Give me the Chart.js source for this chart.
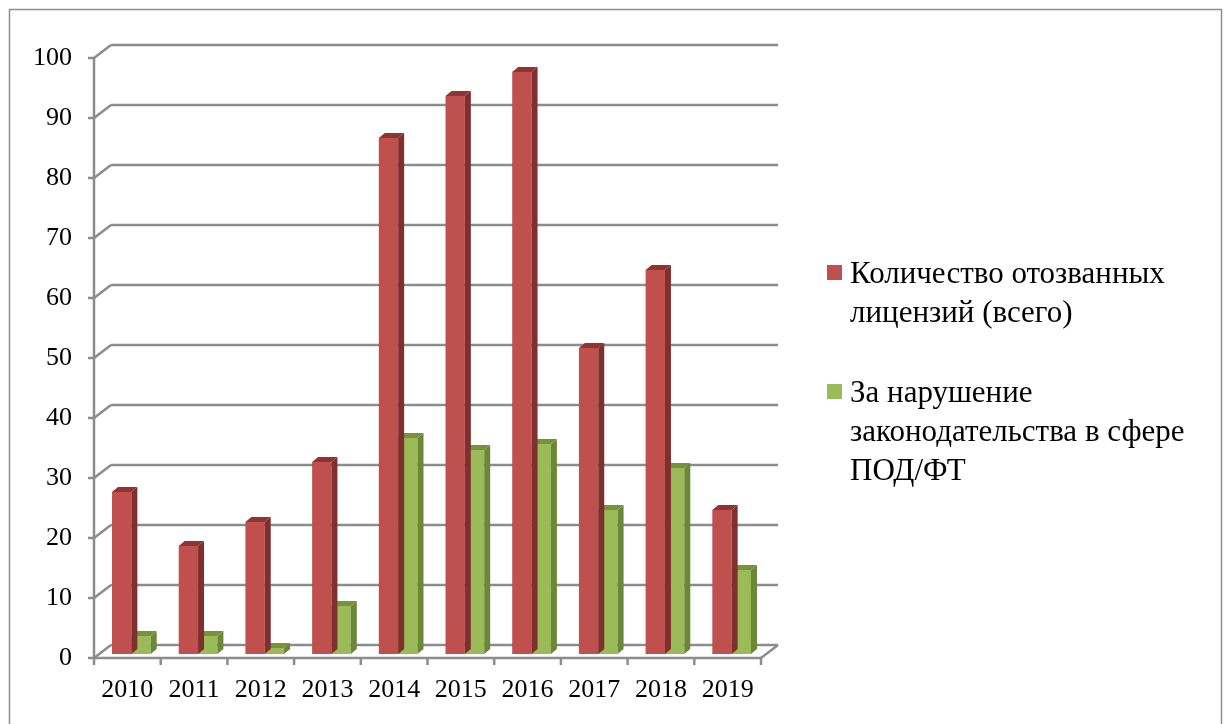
<!DOCTYPE html>
<html>
<head>
<meta charset="utf-8">
<script src="https://cdn.jsdelivr.net/npm/chart.js@4"></script>
<style>
    html, body { margin: 0; padding: 0; background: #fff; }
    canvas { display: block; }
</style>
</head>
<body>
<canvas id="myChart" width="1224" height="724"></canvas>
<script>
const years = ['2010', '2011', '2012', '2013', '2014', '2015', '2016', '2017', '2018', '2019'];
const revokedTotal = [27, 18, 22, 32, 86, 93, 97, 51, 64, 24];
const revokedAml = [3, 3, 1, 8, 36, 34, 35, 24, 31, 14];
const seriesNames = [
    'Количество отозванных лицензий (всего)',
    'За нарушение законодательства в сфере ПОД/ФТ'
];
const legendLines = [
    ['Количество отозванных', 'лицензий (всего)'],
    ['За нарушение', 'законодательства в сфере', 'ПОД/ФТ']
];

const FONT = '26px "Liberation Serif"';
const LEGEND_FONT = '31px "Liberation Serif"';
const GRID = '#8c8c8c';
// offsets of the front edge / back wall from the plane the bars stand in
const FRONT = { dx: -4, dy: 4 };
const BACK = { dx: 13, dy: -9 };
// depth of a single bar
const DEPTH = { dx: 6, dy: 5 };

function line(ctx, x1, y1, x2, y2) {
    ctx.beginPath();
    ctx.moveTo(x1, y1);
    ctx.lineTo(x2, y2);
    ctx.stroke();
}

// walls, axes, ticks and their labels
const walls = {
    id: 'walls',
    beforeDatasetsDraw(chart) {
        const { ctx, chartArea: a, scales: { x, y } } = chart;
        ctx.save();
        ctx.strokeStyle = GRID;
        ctx.lineWidth = 2.5;
        ctx.fillStyle = '#000';
        ctx.font = FONT;
        ctx.textAlign = 'right';
        ctx.textBaseline = 'middle';

        y.ticks.forEach(t => {
            const py = y.getPixelForValue(t.value);
            line(ctx, a.left + BACK.dx, py + BACK.dy, a.right + BACK.dx, py + BACK.dy);
            line(ctx, a.left + FRONT.dx, py + FRONT.dy, a.left + BACK.dx, py + BACK.dy);
            line(ctx, a.left + FRONT.dx - 6, py + FRONT.dy, a.left + FRONT.dx, py + FRONT.dy);
            ctx.fillText(String(t.value), a.left + FRONT.dx - 22, py + FRONT.dy);
        });

        const yTop = y.getPixelForValue(y.max) + FRONT.dy;
        const y0 = y.getPixelForValue(0) + FRONT.dy;
        line(ctx, a.left + FRONT.dx, yTop, a.left + FRONT.dx, y0);

        // floor edge
        line(ctx, a.left + FRONT.dx, y0, a.right + FRONT.dx, y0);
        line(ctx, a.right + FRONT.dx, y0, a.right + BACK.dx, y.getPixelForValue(0) + BACK.dy);

        const step = (a.right - a.left) / years.length;
        for (let i = 0; i <= years.length; i++) {
            const bx = a.left + FRONT.dx + i * step;
            line(ctx, bx, y0, bx, y0 + 7);
        }

        ctx.textAlign = 'center';
        years.forEach((yr, i) => {
            ctx.fillText(yr, x.getPixelForValue(i) + FRONT.dx, y0 + 32);
        });
        ctx.restore();
    },
    // side and top faces of every bar
    afterDatasetDraw(chart, args) {
        const { ctx } = chart;
        const ds = chart.data.datasets[args.index];
        ctx.save();
        args.meta.data.forEach(el => {
            const { x, y, base, width } = el.getProps(['x', 'y', 'base', 'width'], true);
            const l = x - width / 2, r = x + width / 2;
            ctx.fillStyle = ds.sideColor;
            ctx.beginPath();
            ctx.moveTo(r, y);
            ctx.lineTo(r + DEPTH.dx, y - DEPTH.dy);
            ctx.lineTo(r + DEPTH.dx, base - DEPTH.dy);
            ctx.lineTo(r, base);
            ctx.closePath();
            ctx.fill();
            ctx.fillStyle = ds.topColor;
            ctx.beginPath();
            ctx.moveTo(l, y);
            ctx.lineTo(l + DEPTH.dx, y - DEPTH.dy);
            ctx.lineTo(r + DEPTH.dx, y - DEPTH.dy);
            ctx.lineTo(r, y);
            ctx.closePath();
            ctx.fill();
        });
        ctx.restore();
    },
    afterDraw(chart) {
        const { ctx } = chart;
        ctx.save();
        // frame round the chart
        ctx.strokeStyle = '#8f8f8f';
        ctx.lineWidth = 1.5;
        ctx.strokeRect(9.5, 9.5, 1212, 730);

        ctx.font = LEGEND_FONT;
        ctx.textAlign = 'left';
        ctx.textBaseline = 'alphabetic';
        const baselines = [283, 402];
        legendLines.forEach((lines, i) => {
            ctx.fillStyle = chart.data.datasets[i].backgroundColor;
            ctx.fillRect(827, baselines[i] - 18, 15, 15);
            ctx.fillStyle = '#000';
            lines.forEach((txt, j) => ctx.fillText(txt, 850, baselines[i] + j * 39));
        });
        ctx.restore();
    }
};

const data = {
    labels: years,
    datasets: [
        {
            label: seriesNames[0],
            data: revokedTotal,
            backgroundColor: '#c0504d',
            sideColor: '#7f2f2d',
            topColor: '#8e3532',
        },
        {
            label: seriesNames[1],
            data: revokedAml,
            backgroundColor: '#9bbb59',
            sideColor: '#6b8738',
            topColor: '#76923c',
        }
    ]
};

const config = {
    type: 'bar',
    data: data,
    options: {
        responsive: false,
        animation: false,
        layout: { padding: { left: 98, right: 459, top: 54, bottom: 70 } },
        datasets: { bar: { categoryPercentage: 0.58, barPercentage: 1.0 } },
        plugins: { legend: { display: false }, tooltip: { enabled: false } },
        scales: {
            x: { display: false },
            y: { display: false, min: 0, max: 100, ticks: { stepSize: 10 } }
        }
    },
    plugins: [walls]
};

document.fonts.load(LEGEND_FONT, 'Количество 2010').then(() => {
    new Chart(document.querySelector('#myChart'), config);
});
</script>
</body>
</html>
